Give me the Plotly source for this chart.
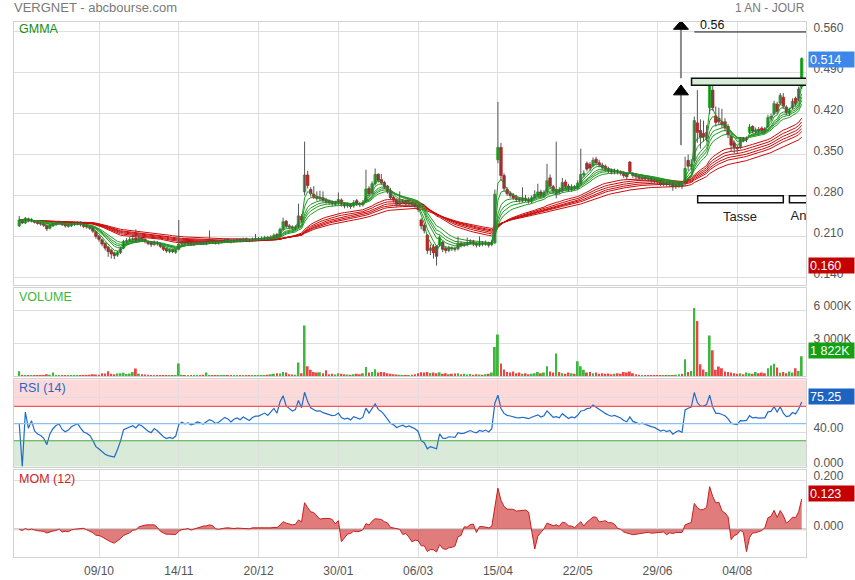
import plotly.graph_objects as go
import pandas as pd

# ---------------- data ----------------
tick_bars = [26, 52, 78, 104, 130, 156, 182, 208, 234]
tick_labels = ["09/10", "14/11", "20/12", "30/01", "06/03", "15/04", "22/05", "29/06", "04/08"]

opens = [
    0.228, 0.237, 0.233, 0.240, 0.236, 0.237, 0.234, 0.232, 0.231, 0.228, 0.224, 0.228, 0.230,
    0.232, 0.233, 0.231, 0.227, 0.228, 0.230, 0.231, 0.234, 0.230, 0.228, 0.226, 0.224, 0.218,
    0.210, 0.204, 0.198, 0.191, 0.186, 0.181, 0.178, 0.182, 0.190, 0.200, 0.202, 0.204, 0.207,
    0.203, 0.207, 0.205, 0.201, 0.199, 0.196, 0.200, 0.197, 0.193, 0.189, 0.184, 0.187, 0.183,
    0.188, 0.197, 0.200, 0.198, 0.199, 0.196, 0.198, 0.200, 0.199, 0.197, 0.200, 0.203, 0.201,
    0.199, 0.200, 0.202, 0.205, 0.203, 0.201, 0.203, 0.205, 0.203, 0.206, 0.204, 0.203, 0.205,
    0.205, 0.206, 0.206, 0.208, 0.207, 0.209, 0.213, 0.210, 0.222, 0.236, 0.228, 0.226, 0.223,
    0.226, 0.244, 0.286, 0.315, 0.290, 0.282, 0.278, 0.274, 0.276, 0.272, 0.270, 0.268, 0.265,
    0.267, 0.272, 0.265, 0.262, 0.264, 0.262, 0.271, 0.266, 0.264, 0.270, 0.292, 0.284, 0.300,
    0.316, 0.307, 0.302, 0.296, 0.288, 0.277, 0.272, 0.265, 0.268, 0.270, 0.266, 0.268, 0.265,
    0.262, 0.238, 0.229, 0.212, 0.186, 0.192, 0.193, 0.196, 0.200, 0.189, 0.186, 0.190, 0.189,
    0.189, 0.198, 0.195, 0.196, 0.199, 0.201, 0.197, 0.195, 0.199, 0.197, 0.199, 0.196, 0.199,
    0.341, 0.362, 0.314, 0.290, 0.283, 0.280, 0.276, 0.273, 0.271, 0.275, 0.273, 0.270, 0.276,
    0.281, 0.286, 0.280, 0.287, 0.310, 0.295, 0.282, 0.289, 0.288, 0.303, 0.296, 0.290, 0.295,
    0.293, 0.301, 0.315, 0.335, 0.333, 0.331, 0.342, 0.336, 0.332, 0.330, 0.326, 0.322, 0.320,
    0.322, 0.320, 0.318, 0.316, 0.337, 0.317, 0.314, 0.312, 0.309, 0.311, 0.309, 0.308, 0.306,
    0.305, 0.303, 0.299, 0.301, 0.298, 0.300, 0.295, 0.297, 0.298, 0.302, 0.340, 0.330, 0.340,
    0.404, 0.391, 0.386, 0.377, 0.430, 0.460, 0.416, 0.412, 0.405, 0.406, 0.398, 0.381, 0.370,
    0.362, 0.363, 0.376, 0.375, 0.388, 0.398, 0.389, 0.393, 0.395, 0.394, 0.398, 0.412, 0.420,
    0.436, 0.438, 0.448, 0.431, 0.421, 0.430, 0.446, 0.446, 0.466,
]
highs = [
    0.245, 0.239, 0.243, 0.242, 0.241, 0.238, 0.236, 0.234, 0.233, 0.230, 0.230, 0.234, 0.236,
    0.237, 0.236, 0.233, 0.232, 0.233, 0.235, 0.236, 0.236, 0.232, 0.230, 0.228, 0.226, 0.220,
    0.212, 0.206, 0.200, 0.194, 0.189, 0.184, 0.185, 0.192, 0.204, 0.207, 0.209, 0.213, 0.222,
    0.212, 0.210, 0.207, 0.203, 0.201, 0.203, 0.202, 0.199, 0.195, 0.191, 0.189, 0.189, 0.189,
    0.238, 0.203, 0.202, 0.202, 0.201, 0.201, 0.203, 0.202, 0.201, 0.203, 0.220, 0.205, 0.203,
    0.203, 0.205, 0.207, 0.207, 0.205, 0.206, 0.207, 0.207, 0.208, 0.208, 0.206, 0.208, 0.214,
    0.209, 0.210, 0.211, 0.211, 0.212, 0.215, 0.216, 0.225, 0.242, 0.238, 0.231, 0.229, 0.229,
    0.266, 0.248, 0.372, 0.322, 0.294, 0.296, 0.287, 0.288, 0.287, 0.276, 0.273, 0.271, 0.271,
    0.285, 0.275, 0.268, 0.268, 0.266, 0.272, 0.274, 0.269, 0.272, 0.324, 0.296, 0.304, 0.326,
    0.318, 0.317, 0.305, 0.298, 0.293, 0.280, 0.275, 0.287, 0.274, 0.273, 0.272, 0.270, 0.267,
    0.265, 0.241, 0.232, 0.214, 0.196, 0.197, 0.195, 0.212, 0.202, 0.193, 0.194, 0.193, 0.192,
    0.210, 0.201, 0.200, 0.208, 0.205, 0.204, 0.200, 0.210, 0.202, 0.203, 0.201, 0.204, 0.290,
    0.440, 0.370, 0.318, 0.294, 0.287, 0.284, 0.281, 0.277, 0.294, 0.281, 0.277, 0.280, 0.289,
    0.300, 0.290, 0.289, 0.334, 0.316, 0.298, 0.372, 0.294, 0.310, 0.307, 0.300, 0.299, 0.298,
    0.306, 0.360, 0.323, 0.338, 0.337, 0.345, 0.346, 0.341, 0.336, 0.333, 0.329, 0.326, 0.326,
    0.325, 0.323, 0.321, 0.319, 0.339, 0.320, 0.317, 0.315, 0.314, 0.314, 0.312, 0.311, 0.309,
    0.308, 0.306, 0.305, 0.304, 0.304, 0.303, 0.301, 0.302, 0.301, 0.346, 0.350, 0.342, 0.415,
    0.460, 0.410, 0.408, 0.400, 0.475, 0.472, 0.432, 0.430, 0.428, 0.412, 0.402, 0.385, 0.374,
    0.366, 0.380, 0.380, 0.381, 0.402, 0.400, 0.396, 0.397, 0.398, 0.397, 0.418, 0.420, 0.442,
    0.440, 0.455, 0.455, 0.434, 0.430, 0.446, 0.449, 0.466, 0.516,
]
lows = [
    0.226, 0.231, 0.231, 0.234, 0.234, 0.232, 0.230, 0.228, 0.226, 0.219, 0.222, 0.226, 0.228,
    0.230, 0.228, 0.225, 0.225, 0.226, 0.228, 0.229, 0.227, 0.224, 0.223, 0.221, 0.216, 0.206,
    0.201, 0.193, 0.186, 0.175, 0.172, 0.171, 0.175, 0.180, 0.188, 0.198, 0.200, 0.201, 0.200,
    0.200, 0.202, 0.198, 0.195, 0.192, 0.194, 0.194, 0.190, 0.185, 0.182, 0.181, 0.181, 0.180,
    0.186, 0.194, 0.195, 0.196, 0.194, 0.194, 0.196, 0.196, 0.195, 0.195, 0.198, 0.198, 0.196,
    0.196, 0.198, 0.200, 0.200, 0.198, 0.199, 0.200, 0.200, 0.201, 0.201, 0.200, 0.201, 0.202,
    0.202, 0.203, 0.204, 0.204, 0.205, 0.206, 0.207, 0.208, 0.220, 0.224, 0.222, 0.221, 0.220,
    0.224, 0.234, 0.280, 0.292, 0.278, 0.274, 0.271, 0.271, 0.268, 0.266, 0.264, 0.262, 0.262,
    0.264, 0.261, 0.258, 0.259, 0.257, 0.259, 0.262, 0.260, 0.261, 0.268, 0.278, 0.281, 0.297,
    0.302, 0.298, 0.291, 0.283, 0.272, 0.268, 0.261, 0.262, 0.265, 0.262, 0.263, 0.261, 0.258,
    0.252, 0.222, 0.215, 0.180, 0.178, 0.172, 0.160, 0.192, 0.183, 0.181, 0.183, 0.185, 0.184,
    0.186, 0.191, 0.192, 0.193, 0.196, 0.193, 0.191, 0.192, 0.193, 0.194, 0.191, 0.193, 0.197,
    0.335, 0.305, 0.287, 0.279, 0.276, 0.272, 0.269, 0.268, 0.268, 0.269, 0.266, 0.267, 0.273,
    0.277, 0.276, 0.276, 0.284, 0.291, 0.283, 0.275, 0.282, 0.285, 0.291, 0.286, 0.286, 0.289,
    0.290, 0.298, 0.311, 0.321, 0.322, 0.328, 0.331, 0.328, 0.324, 0.321, 0.318, 0.316, 0.316,
    0.316, 0.314, 0.310, 0.308, 0.318, 0.310, 0.308, 0.306, 0.306, 0.305, 0.304, 0.302, 0.301,
    0.299, 0.296, 0.296, 0.295, 0.294, 0.288, 0.291, 0.293, 0.291, 0.296, 0.322, 0.325, 0.336,
    0.370, 0.360, 0.372, 0.372, 0.420, 0.425, 0.398, 0.400, 0.395, 0.390, 0.378, 0.355, 0.352,
    0.353, 0.359, 0.371, 0.371, 0.385, 0.386, 0.385, 0.386, 0.387, 0.386, 0.395, 0.408, 0.417,
    0.419, 0.434, 0.428, 0.417, 0.416, 0.427, 0.432, 0.441, 0.462,
]
closes = [
    0.238, 0.233, 0.241, 0.236, 0.239, 0.234, 0.232, 0.231, 0.229, 0.223, 0.228, 0.231, 0.233,
    0.234, 0.230, 0.228, 0.229, 0.231, 0.232, 0.233, 0.230, 0.227, 0.226, 0.224, 0.219, 0.210,
    0.205, 0.197, 0.190, 0.184, 0.180, 0.177, 0.182, 0.189, 0.201, 0.203, 0.205, 0.206, 0.203,
    0.207, 0.205, 0.201, 0.198, 0.196, 0.200, 0.197, 0.193, 0.188, 0.185, 0.186, 0.184, 0.186,
    0.197, 0.200, 0.198, 0.199, 0.197, 0.198, 0.200, 0.199, 0.198, 0.200, 0.202, 0.201, 0.199,
    0.200, 0.202, 0.204, 0.203, 0.201, 0.203, 0.204, 0.203, 0.205, 0.204, 0.203, 0.205, 0.206,
    0.206, 0.207, 0.208, 0.207, 0.209, 0.212, 0.210, 0.222, 0.235, 0.228, 0.226, 0.224, 0.226,
    0.245, 0.238, 0.315, 0.297, 0.283, 0.278, 0.275, 0.276, 0.272, 0.270, 0.268, 0.266, 0.267,
    0.273, 0.265, 0.262, 0.264, 0.261, 0.268, 0.266, 0.264, 0.268, 0.291, 0.283, 0.300, 0.316,
    0.306, 0.302, 0.295, 0.287, 0.276, 0.272, 0.265, 0.268, 0.270, 0.266, 0.268, 0.265, 0.262,
    0.256, 0.228, 0.220, 0.186, 0.190, 0.182, 0.176, 0.208, 0.188, 0.186, 0.190, 0.189, 0.188,
    0.198, 0.195, 0.196, 0.199, 0.201, 0.197, 0.195, 0.199, 0.197, 0.199, 0.195, 0.200, 0.282,
    0.362, 0.314, 0.292, 0.283, 0.280, 0.276, 0.273, 0.272, 0.275, 0.273, 0.270, 0.276, 0.282,
    0.286, 0.280, 0.285, 0.305, 0.296, 0.288, 0.290, 0.287, 0.302, 0.296, 0.290, 0.295, 0.293,
    0.301, 0.316, 0.318, 0.325, 0.327, 0.340, 0.336, 0.332, 0.328, 0.325, 0.322, 0.320, 0.322,
    0.320, 0.318, 0.314, 0.312, 0.321, 0.314, 0.312, 0.310, 0.311, 0.309, 0.308, 0.306, 0.305,
    0.303, 0.300, 0.301, 0.299, 0.300, 0.295, 0.297, 0.298, 0.296, 0.326, 0.330, 0.333, 0.408,
    0.388, 0.380, 0.380, 0.388, 0.468, 0.430, 0.405, 0.406, 0.401, 0.396, 0.384, 0.366, 0.362,
    0.360, 0.376, 0.375, 0.377, 0.397, 0.390, 0.392, 0.390, 0.391, 0.391, 0.413, 0.415, 0.437,
    0.424, 0.451, 0.433, 0.422, 0.425, 0.441, 0.437, 0.462, 0.514,
]
volumes_k = [
    480, 150, 120, 100, 90, 110, 80, 100, 120, 200, 150, 360, 120,
    100, 90, 110, 80, 130, 100, 90, 120, 100, 110, 150, 200, 180,
    160, 300, 280, 480, 250, 200, 260, 300, 330, 230, 280, 400, 720,
    250, 200, 180, 150, 130, 100, 120, 90, 110, 100, 120, 110, 130,
    1170, 150, 120, 100, 110, 130, 100, 90, 150, 360, 120, 100, 90,
    100, 80, 90, 110, 100, 90, 120, 100, 90, 80, 110, 100, 120,
    130, 100, 90, 150, 200, 250, 300, 280, 400, 350, 200, 180, 150,
    1260, 300, 4600, 930, 600, 400, 350, 380, 300, 570, 200, 250, 180,
    300, 250, 200, 180, 150, 200, 250, 200, 300, 860, 350, 400, 660,
    350, 400, 380, 300, 250, 200, 180, 150, 120, 100, 130, 150, 200,
    300, 380, 350, 400, 320, 350, 300, 380, 250, 300, 200, 250, 280,
    300, 200, 250, 180, 220, 150, 200, 180, 150, 200, 250, 350, 2660,
    3780, 1170, 630, 400, 350, 450, 300, 350, 250, 300, 200, 250, 300,
    400, 300, 350, 930, 450, 350, 2070, 400, 300, 250, 350, 300, 250,
    1380, 930, 600, 350, 400, 300, 350, 250, 300, 250, 280, 200, 250,
    300, 250, 400, 350, 450, 300, 200, 150, 100, 120, 80, 100, 90,
    100, 80, 90, 120, 100, 80, 150, 200, 250, 1560, 400, 500, 6170,
    5000, 1100, 630, 400, 3700, 2370, 600, 900, 750, 450, 400, 350, 300,
    250, 300, 200, 350, 300, 250, 400, 300, 350, 300, 750, 1000, 1150,
    800, 330, 400, 300, 450, 350, 750, 500, 1822,
]

gmma_short = [3, 5, 8, 10, 12, 15]
gmma_long = [30, 35, 40, 45, 50, 60]
rsi_period = 14
mom_period = 12
rsi_last_label = 75.25
year_low = 0.160

price_ticks = [0.140, 0.210, 0.280, 0.350, 0.420, 0.490, 0.560]
volume_ticks = [3000, 6000]
volume_tick_labels = ["3 000K", "6 000K"]
rsi_ticks = [0, 40, 80]
rsi_tick_labels = ["0.000", "40.00", ""]
mom_ticks = [0.0, 0.2]
mom_tick_labels = ["0.000", "0.200"]

# drawing tools on the price pane (bar index, price)
arrow_bar = 215.65
arrow_low = [0.366, 0.452, 0.469]     # shaft start, head base, tip
arrow_high = [0.4804, 0.5641, 0.5788]
target_price = 0.5595
target_start = 220.0
zone_start, zone_lo, zone_hi = 219.1, 0.4685, 0.4804
cup_start, cup_end, handle_start = 221.1, 249.0, 251.0
pattern_lo, pattern_hi, pattern_label_y = 0.2675, 0.2795, 0.2437
handle_label_bar = 256.2

# ---------------- styles ----------------
FONT = "Liberation Sans, Arial, sans-serif"
GRID = "#dedede"
BORDER = "#d2d2d2"
TICKC = "#555555"
XR = [-1.7, 256.4]
DOJI = 0.0008   # minimum drawn body height (display only)

n = len(closes)
x = list(range(n))
cs = pd.Series(closes)

fig = go.Figure()

for p in gmma_long:
    fig.add_trace(go.Scatter(x=x, y=cs.ewm(span=p, adjust=False).mean(), mode="lines",
                             line=dict(color="#cc0a0a", width=1), xaxis="x", yaxis="y", hoverinfo="skip"))
for p in gmma_short:
    fig.add_trace(go.Scatter(x=x, y=cs.ewm(span=p, adjust=False).mean(), mode="lines",
                             line=dict(color="#1f9a1f", width=1), xaxis="x", yaxis="y", hoverinfo="skip"))

# wicks
wx, wy = [], []
for i in range(n):
    wx += [i, i, None]
    wy += [lows[i], highs[i], None]
fig.add_trace(go.Scatter(x=wx, y=wy, mode="lines", line=dict(color="#555555", width=1),
                         xaxis="x", yaxis="y", hoverinfo="skip"))

# bodies as floating bars
up = [c >= o for o, c in zip(opens, closes)]
body_base = [min(o, c) for o, c in zip(opens, closes)]
body_h = [max(abs(c - o), DOJI) for o, c in zip(opens, closes)]
fig.add_trace(go.Bar(x=x, y=body_h, base=body_base, width=0.8,
                     marker=dict(color=["#22cc22" if u else "#e01515" for u in up],
                                 line=dict(color=["#169a16" if u else "#b00c0c" for u in up], width=0.7)),
                     xaxis="x", yaxis="y", hoverinfo="skip"))

fig.add_trace(go.Scatter(x=[handle_label_bar], y=[pattern_label_y], mode="text", text=["Anse"],
                         textposition="middle center", cliponaxis=True,
                         textfont=dict(family=FONT, size=13, color="#222222"),
                         xaxis="x", yaxis="y", hoverinfo="skip"))

vcolors = ["#3cb83c" if u else "#f04444" for u in up]
fig.add_trace(go.Bar(x=x, y=volumes_k, marker=dict(color=vcolors, line=dict(width=0)), width=0.62,
                     xaxis="x2", yaxis="y2", hoverinfo="skip"))

diff = cs.diff().fillna(0)
gain = diff.clip(lower=0)
loss = (-diff).clip(lower=0)
ag = gain.ewm(alpha=1 / rsi_period, adjust=False).mean()
al = loss.ewm(alpha=1 / rsi_period, adjust=False).mean()
rsi = (100 * ag / (ag + al)).fillna(50)
fig.add_trace(go.Scatter(x=x, y=rsi, mode="lines", line=dict(color="#1f6cc8", width=1.2),
                         xaxis="x3", yaxis="y3", hoverinfo="skip"))

mom = cs - cs.shift(mom_period).fillna(cs.iloc[0])
fig.add_trace(go.Scatter(x=x, y=mom, mode="lines", fill="tozeroy", fillcolor="rgba(204,30,30,0.58)",
                         line=dict(color="#c82020", width=1), xaxis="x4", yaxis="y4", hoverinfo="skip"))

def xaxis(anchor, labels):
    return dict(domain=[0, 1], range=XR, anchor=anchor, tickmode="array", tickvals=tick_bars,
                ticktext=tick_labels, showticklabels=labels, showgrid=True, gridcolor=GRID, gridwidth=1,
                showline=True, linecolor=BORDER, mirror=True, zeroline=False, ticks="",
                ticklabelstandoff=3,
                automargin=False, tickfont=dict(family=FONT, size=12, color=TICKC), fixedrange=True)

def yaxis(anchor, domain, rng, tv, tt):
    return dict(domain=domain, range=rng, anchor=anchor, side="right", tickmode="array", tickvals=tv,
                ticktext=tt, showgrid=True, gridcolor=GRID, gridwidth=1, showline=True, linecolor=BORDER,
                mirror=True, zeroline=False, ticks="", ticklabelstandoff=4, ticklabelshift=-4,
                automargin=False, tickfont=dict(family=FONT, size=12, color=TICKC), fixedrange=True)

shapes = [
    dict(type="rect", xref="x3 domain", yref="y3", x0=0, x1=1, y0=70, y1=101.4,
         fillcolor="#fdd9d9", line=dict(width=0), layer="below"),
    dict(type="rect", xref="x3 domain", yref="y3", x0=0, x1=1, y0=-0.2, y1=30,
         fillcolor="#d9ebd8", line=dict(width=0), layer="below"),
    dict(type="line", xref="x3 domain", yref="y3", x0=0, x1=1, y0=70, y1=70,
         line=dict(color="#ee5a5a", width=1.2)),
    dict(type="line", xref="x3 domain", yref="y3", x0=0, x1=1, y0=50, y1=50,
         line=dict(color="#8cc0f2", width=1.2)),
    dict(type="line", xref="x3 domain", yref="y3", x0=0, x1=1, y0=30, y1=30,
         line=dict(color="#46a846", width=1.2)),
    dict(type="line", xref="x4 domain", yref="y4", x0=0, x1=1, y0=0, y1=0,
         line=dict(color="#c4c4c4", width=2), layer="below"),
    dict(type="line", xref="x", yref="y", x0=arrow_bar, x1=arrow_bar, y0=arrow_low[0], y1=arrow_low[1],
         line=dict(color="#8a8a8a", width=2)),
    dict(type="path", xref="x", yref="y",
         path=f"M {arrow_bar-2.45},{arrow_low[1]} L {arrow_bar+2.45},{arrow_low[1]} L {arrow_bar},{arrow_low[2]} Z",
         fillcolor="#000000", line=dict(color="#000000", width=1)),
    dict(type="line", xref="x", yref="y", x0=arrow_bar, x1=arrow_bar, y0=arrow_high[0], y1=arrow_high[1],
         line=dict(color="#8a8a8a", width=2)),
    dict(type="path", xref="x", yref="y",
         path=f"M {arrow_bar-2.45},{arrow_high[1]} L {arrow_bar+2.45},{arrow_high[1]} L {arrow_bar},{arrow_high[2]} Z",
         fillcolor="#000000", line=dict(color="#000000", width=1)),
    dict(type="line", xref="x", yref="y", x0=target_start, x1=262, y0=target_price, y1=target_price,
         line=dict(color="#111111", width=1)),
    dict(type="rect", xref="x", yref="y", x0=zone_start, x1=262, y0=zone_lo, y1=zone_hi,
         fillcolor="#d6ecd6", line=dict(color="#111111", width=1.5)),
    dict(type="rect", xref="x", yref="y", x0=cup_start, x1=cup_end, y0=pattern_lo, y1=pattern_hi,
         fillcolor="#ffffff", line=dict(color="#111111", width=1.5)),
    dict(type="rect", xref="x", yref="y", x0=handle_start, x1=262, y0=pattern_lo, y1=pattern_hi,
         fillcolor="#ffffff", line=dict(color="#111111", width=1.5)),
]

def badge(text, yref, y, color, yshift=0):
    return dict(xref="paper", x=1, xanchor="left", xshift=2, yref=yref, y=y, yanchor="middle",
                yshift=yshift, text=text, showarrow=False, bgcolor=color, width=43, height=13,
                align="left", borderpad=1, font=dict(family=FONT, size=12.5, color="white"))

def label(text, yref, color, yshift):
    return dict(xref="paper", x=0, xanchor="left", xshift=3, yref=yref, y=1, yanchor="middle",
                yshift=yshift, text=text, showarrow=False, font=dict(family=FONT, size=12.5, color=color))

vol_label = f"{volumes_k[-1]:,}K".replace(",", " ")
annotations = [
    dict(xref="paper", yref="paper", x=0, xanchor="left", xshift=-2, y=1.0262, yanchor="middle",
         text="VERGNET - abcbourse.com", showarrow=False, font=dict(family=FONT, size=13, color="#7a7a7a")),
    dict(xref="paper", yref="paper", x=1, xanchor="right", xshift=1, y=1.0262, yanchor="middle",
         text="1 AN - JOUR", showarrow=False, font=dict(family=FONT, size=12, color="#7a7a7a")),
    label("GMMA", "y domain", "#138f13", -7),
    label("VOLUME", "y2 domain", "#3cb83c", -8.5),
    label("RSI (14)", "y3 domain", "#1f68c4", -8.5),
    label("MOM (12)", "y4 domain", "#cc2222", -8.5),
    dict(xref="x", yref="y", x=221.3, xanchor="left", y=0.5706, yanchor="middle", text=f"{target_price:.2f}",
         showarrow=False, font=dict(family=FONT, size=12.5, color="#111111")),
    dict(xref="x", yref="y", x=(cup_start + cup_end) / 2, xanchor="center", y=pattern_label_y,
         yanchor="middle", text="Tasse", showarrow=False, font=dict(family=FONT, size=13, color="#222222")),
    badge(f"{closes[-1]:.3f}", "y", closes[-1], "#3d86ea", -1),
    badge(f"{year_low:.3f}", "y", year_low, "#c40000"),
    badge(vol_label, "y2", volumes_k[-1], "#14a014", 5.5),
    badge(f"{rsi_last_label:.2f}", "y3", rsi_last_label, "#1e63c0", 5.5),
    badge(f"{mom.iloc[-1]:.3f}", "y4", mom.iloc[-1], "#c40000", 5.5),
]

fig.update_layout(
    width=855, height=580,
    margin=dict(l=14, r=49, t=22, b=23, autoexpand=False),
    paper_bgcolor="white", plot_bgcolor="white",
    showlegend=False, hovermode=False, barmode="overlay",
    font=dict(family=FONT, size=12, color=TICKC),
    xaxis=xaxis("y", False),
    xaxis2=xaxis("y2", False),
    xaxis3=xaxis("y3", False),
    xaxis4=xaxis("y4", True),
    yaxis=yaxis("x", [0.5084, 1.0], [0.12685, 0.57656], price_ticks, [f"{v:.3f}" for v in price_ticks]),
    yaxis2=yaxis("x2", [0.3374, 0.5028], [0, 7985], volume_ticks, volume_tick_labels),
    yaxis3=yaxis("x3", [0.1688, 0.3321], [-0.2, 101.4], rsi_ticks, rsi_tick_labels),
    yaxis4=yaxis("x4", [0.0, 0.1626], [-0.1124, 0.2406], mom_ticks, mom_tick_labels),
    shapes=shapes,
    annotations=annotations,
)

fig.write_html("out.html", config={"displayModeBar": False},
               post_script="document.body.style.margin='0';document.body.style.overflow='hidden';")
